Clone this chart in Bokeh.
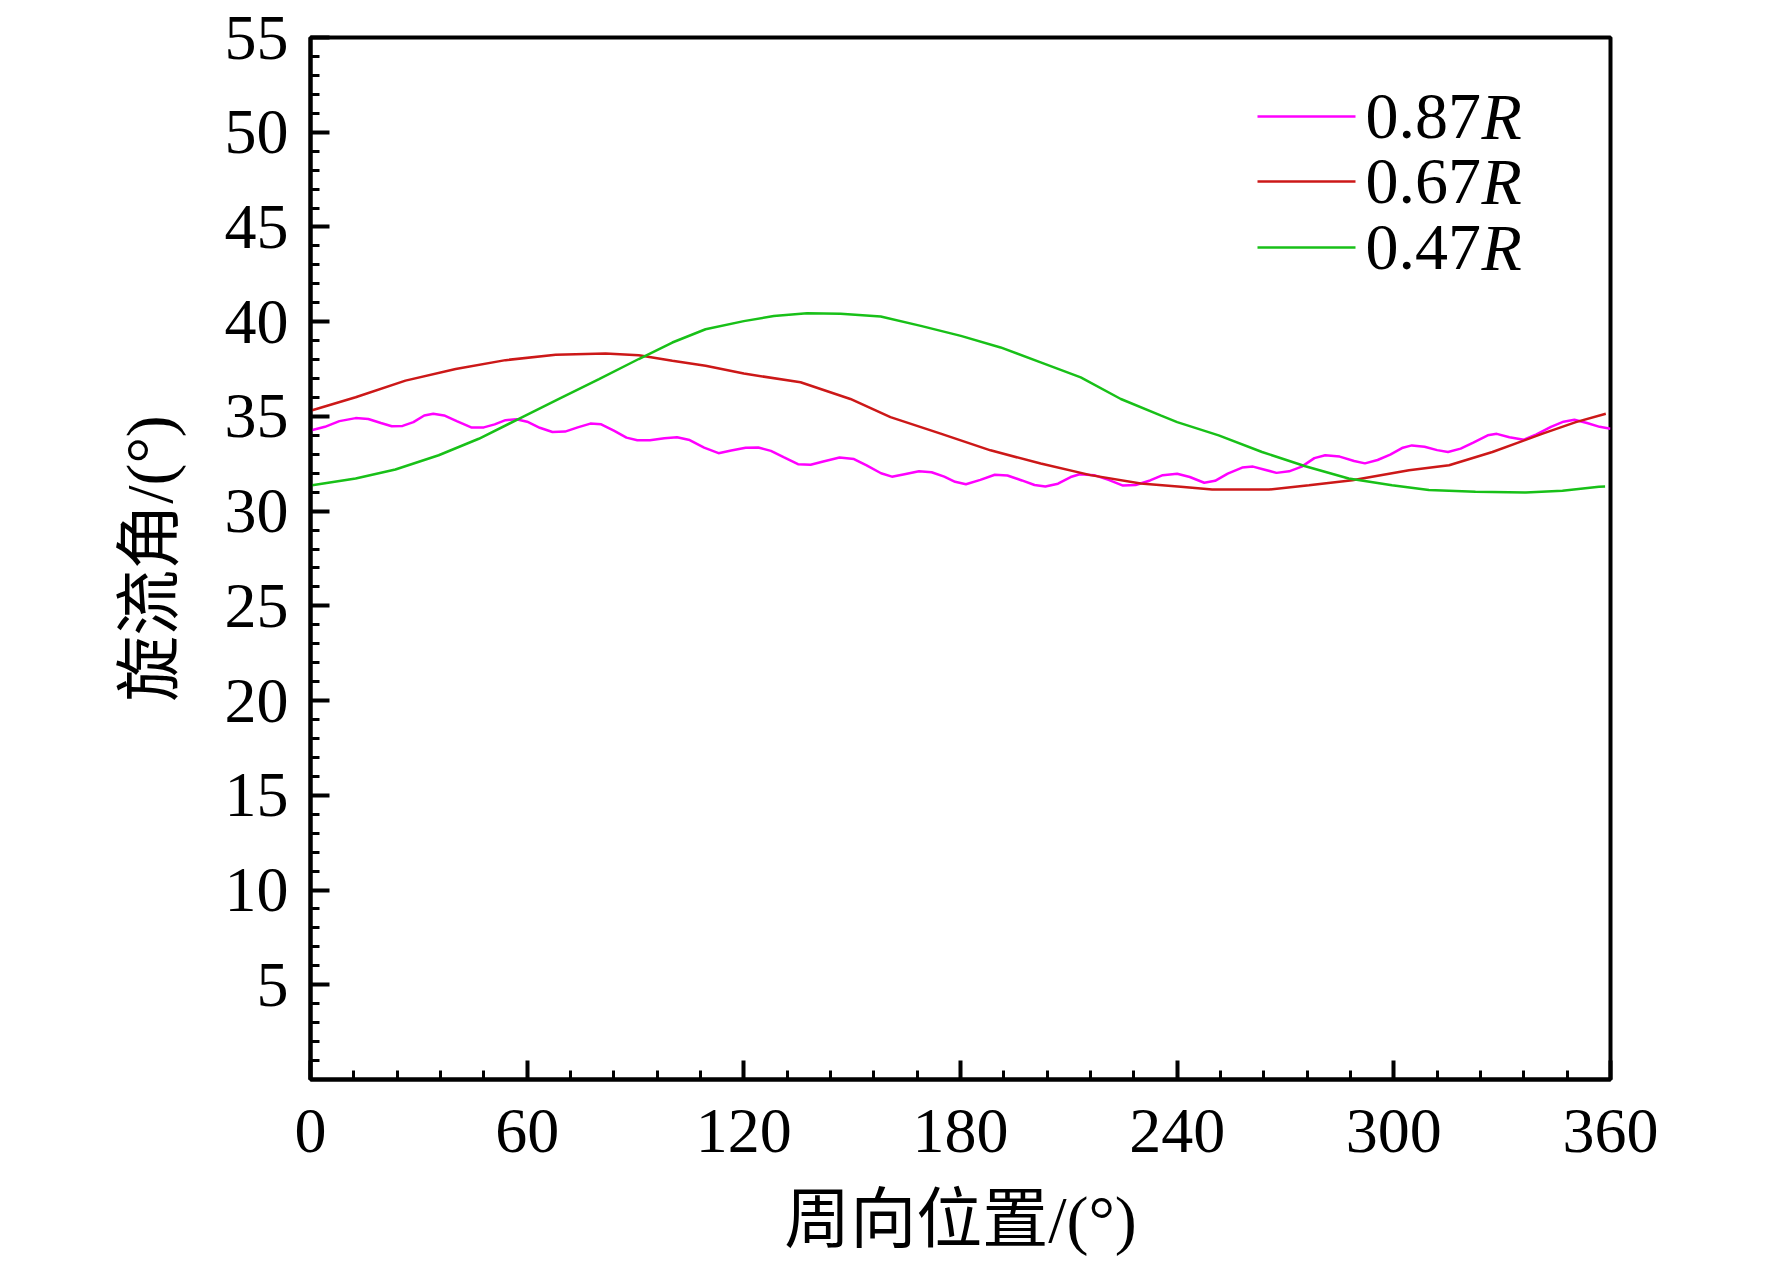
from bokeh.plotting import figure
from bokeh.models import Range1d, FixedTicker, Label, BoxAnnotation
from bokeh.embed import file_html
from bokeh.resources import INLINE

# ---- data ----
x_087 = [0, 4, 8, 12.5, 16, 19.5, 22.5, 25.5, 28.5, 31.5, 34, 37, 40.5, 44.5, 48, 51, 54, 57,
         60, 63.5, 67, 70.5, 74, 77.5, 80.5, 84, 87.5, 90.5, 94, 98, 101.5, 105, 109, 113,
         116.5, 120.5, 124, 127.5, 131, 135, 138.5, 142, 146.5, 150.5, 154, 158, 161, 164.5,
         168.5, 172, 175.5, 178.5, 181.5, 185.5, 189.5, 193, 197, 200.5, 203.5, 207, 210.5,
         213, 217, 221, 225, 228.5, 232.5, 236, 240, 243.5, 247.5, 250.5, 254, 258, 261, 264,
         267.5, 271, 274.5, 278, 281, 285, 289, 292, 295.5, 299, 302.5, 305, 308.5, 312, 315,
         318.5, 322, 326, 328.5, 332, 336, 339.5, 343.5, 347, 350, 353.5, 357, 360]
y_087 = [34.26, 34.45, 34.75, 34.91, 34.86, 34.65, 34.48, 34.50, 34.70, 35.05, 35.14, 35.05,
         34.75, 34.42, 34.42, 34.58, 34.80, 34.85, 34.72, 34.40, 34.18, 34.20, 34.42, 34.62,
         34.58, 34.25, 33.88, 33.74, 33.74, 33.85, 33.90, 33.75, 33.35, 33.06, 33.20, 33.35,
         33.36, 33.18, 32.85, 32.48, 32.45, 32.62, 32.83, 32.75, 32.42, 32.00, 31.82, 31.95,
         32.10, 32.05, 31.82, 31.55, 31.42, 31.65, 31.92, 31.88, 31.62, 31.38, 31.30, 31.45,
         31.80, 31.95, 31.90, 31.65, 31.35, 31.38, 31.62, 31.90, 31.97, 31.80, 31.50, 31.60,
         31.98, 32.30, 32.35, 32.20, 32.02, 32.10, 32.35, 32.80, 32.95, 32.88, 32.65, 32.52,
         32.70, 32.98, 33.35, 33.47, 33.40, 33.22, 33.12, 33.30, 33.62, 34.00, 34.08, 33.90,
         33.77, 34.05, 34.45, 34.72, 34.82, 34.65, 34.45, 34.35]

x_067 = [0, 12.5, 26.3, 40.2, 54.0, 67.9, 81.7, 90.9, 100.2, 109.4, 120.0, 135.7, 149.5,
         160.6, 174.5, 188.3, 202.2, 216.0, 229.9, 241.0, 249.7, 265.4, 276.5, 288.5, 304.2,
         315.3, 327.3, 341.2, 350.4, 358.7]
y_067 = [35.30, 36.01, 36.89, 37.50, 37.97, 38.25, 38.32, 38.23, 37.94, 37.67, 37.26, 36.80,
         35.92, 34.96, 34.09, 33.21, 32.51, 31.90, 31.46, 31.29, 31.14, 31.14, 31.37, 31.63,
         32.16, 32.42, 33.12, 34.09, 34.70, 35.14]

x_047 = [0, 12.5, 23.5, 35.5, 46.6, 57.7, 68.8, 79.9, 90.9, 100.2, 109.4, 120.0, 128.3,
         137.5, 146.8, 157.9, 169.0, 180.1, 191.1, 202.2, 213.3, 224.4, 235.4, 240.0, 251.5,
         263.5, 275.5, 287.5, 299.5, 309.7, 322.6, 336.5, 346.7, 356.8, 358.5]
y_047 = [31.35, 31.72, 32.20, 32.95, 33.82, 34.87, 35.92, 36.97, 38.03, 38.90, 39.60, 40.03,
         40.30, 40.44, 40.42, 40.27, 39.78, 39.25, 38.64, 37.85, 37.06, 35.92, 35.05, 34.70,
         34.00, 33.12, 32.37, 31.72, 31.37, 31.11, 31.02, 30.99, 31.08, 31.29, 31.30]

series_names = ["0.87", "0.67", "0.47"]
series_colors = ["#FF00FF", "#CC1818", "#18C018"]

x_ticks = [0, 60, 120, 180, 240, 300, 360]
x_minor = list(range(0, 361, 12))
y_ticks = [5, 10, 15, 20, 25, 30, 35, 40, 45, 50, 55]
y_minor = list(range(0, 56, 1))

x_title = "周向位置/(°)"
y_title = "旋流角/(°)"

SERIF = "Liberation Serif"
MIXED = "Liberation Serif, Noto Sans CJK SC"

p = figure(frame_width=1300, frame_height=1042,
           x_range=Range1d(0, 360), y_range=Range1d(0, 55),
           output_backend="svg", toolbar_location=None,
           min_border_left=310, min_border_right=150,
           min_border_top=37, min_border_bottom=176)
p.background_fill_color = "white"
p.border_fill_color = "white"
p.grid.visible = False
p.outline_line_color = "black"
p.outline_line_width = 4
p.outline_line_alpha = 1.0

p.xaxis.ticker = FixedTicker(ticks=x_ticks, minor_ticks=x_minor)
p.yaxis.ticker = FixedTicker(ticks=y_ticks, minor_ticks=y_minor)

for ax in (p.xaxis[0], p.yaxis[0]):
    ax.axis_line_width = 4
    ax.axis_line_color = "black"
    ax.major_tick_line_width = 4
    ax.major_tick_line_color = "black"
    ax.minor_tick_line_width = 3
    ax.minor_tick_line_color = "black"
    ax.major_tick_in = 19
    ax.major_tick_out = 0
    ax.minor_tick_in = 9
    ax.minor_tick_out = 0
    ax.major_label_text_font = SERIF
    ax.major_label_text_font_size = "64px"
    ax.major_label_text_color = "black"
    ax.axis_label_text_font = MIXED
    ax.axis_label_text_font_size = "66px"
    ax.axis_label_text_font_style = "normal"
    ax.axis_label_text_color = "black"

p.xaxis.axis_label = x_title
p.yaxis.axis_label = y_title
p.xaxis.major_label_standoff = 30
p.yaxis.major_label_standoff = 22
p.xaxis.axis_label_standoff = 28
p.yaxis.axis_label_standoff = 36

p.line(x_087, y_087, line_color=series_colors[0], line_width=2.5)
p.line(x_067, y_067, line_color=series_colors[1], line_width=2.5)
p.line(x_047, y_047, line_color=series_colors[2], line_width=2.5)

# ---- legend (screen units, measured from frame bottom-left) ----
leg_rows = [963, 898, 832]
for name, col, ry in zip(series_names, series_colors, leg_rows):
    p.add_layout(BoxAnnotation(left=947, right=1045, bottom=ry - 1.3, top=ry + 1.3,
                               left_units="screen", right_units="screen",
                               bottom_units="screen", top_units="screen",
                               fill_color=col, fill_alpha=1.0, line_alpha=0))
    p.add_layout(Label(x=1055, y=ry, x_units="screen", y_units="screen", text=name,
                       text_font=SERIF, text_font_size="66px", text_color="black",
                       text_align="left", text_baseline="middle"))
    p.add_layout(Label(x=1171, y=ry, x_units="screen", y_units="screen", text="R",
                       text_font=SERIF, text_font_size="66px", text_font_style="italic",
                       text_color="black", text_align="left", text_baseline="middle"))

open("out.html", "w").write(file_html(p, INLINE))
